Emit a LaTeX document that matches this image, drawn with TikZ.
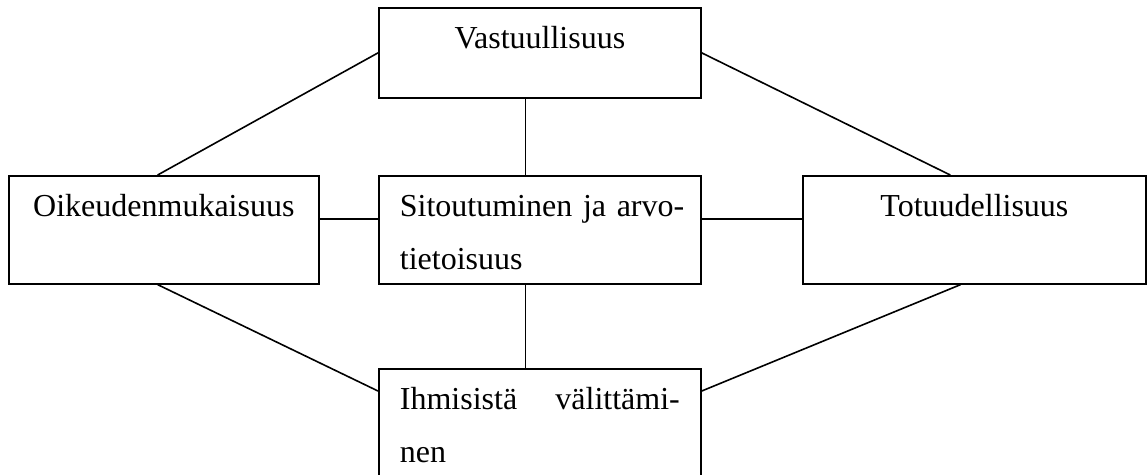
\documentclass[tikz,border=0pt]{standalone}
\usepackage{fontspec}
\setmainfont{Liberation Serif}
\usetikzlibrary{calc}
\tikzset{
    box/.style = {draw, rectangle, anchor=north west,
        inner xsep=7.9pt, inner ysep=0pt,
        text height=15.4pt, text depth=25.1pt,
        font=\fontsize{12}{19.9}\selectfont},
    link/.style = {draw, line width=.6pt}
}

\begin{document}
\begin{tikzpicture}[x=.375pt, y=-.375pt, line width=.6pt]
                \useasboundingbox (0,0) rectangle (1147,474);
                \node[box,text width=105pt,align=center,text depth=18.4pt] (vastuu) at (378,7) {Vastuullisuus};
                \node[box,text width=100.5pt,align=center] (oikeus) at (8,175) {Oikeudenmukaisuus};
                \node[box,text width=105pt,align=left] (sitou) at (378,175) {\makebox[\linewidth][s]{Sitoutuminen ja arvo-}\\tietoisuus};
                \node[box,text width=112.9pt,align=center] (totuus) at (802,175) {Totuudellisuus};
                \node[box,text width=105pt,align=left] (ihmis) at (378,368) {Ihmisistä\hfill välittämi-\\nen};
                \coordinate (vt) at ($(vastuu.south west)!.455!(vastuu.south east)$);
                \coordinate (vb) at ($(sitou.south west)!.455!(sitou.south east)$);
                \draw [link] (vastuu.west) -- ($(oikeus.north west)!.48!(oikeus.north east)$);
                \draw [link] (vastuu.east) -- ($(totuus.north west)!.43!(totuus.north east)$);
                \draw [link] (vt) -- (vt |- sitou.north);
                \draw [link] ($(oikeus.north east)+(0,44)$) -- ($(sitou.north west)+(0,44)$);
                \draw [link] ($(sitou.north east)+(0,44)$) -- ($(totuus.north west)+(0,44)$);
                \draw [link] (vb) -- (vb |- ihmis.north);
                \draw [link] ($(oikeus.south west)!.48!(oikeus.south east)$) -- ($(ihmis.north west)+(0,23)$);
                \draw [link] ($(totuus.south west)!.46!(totuus.south east)$) -- ($(ihmis.north east)+(0,23)$);
            \end{tikzpicture}
\end{document}
